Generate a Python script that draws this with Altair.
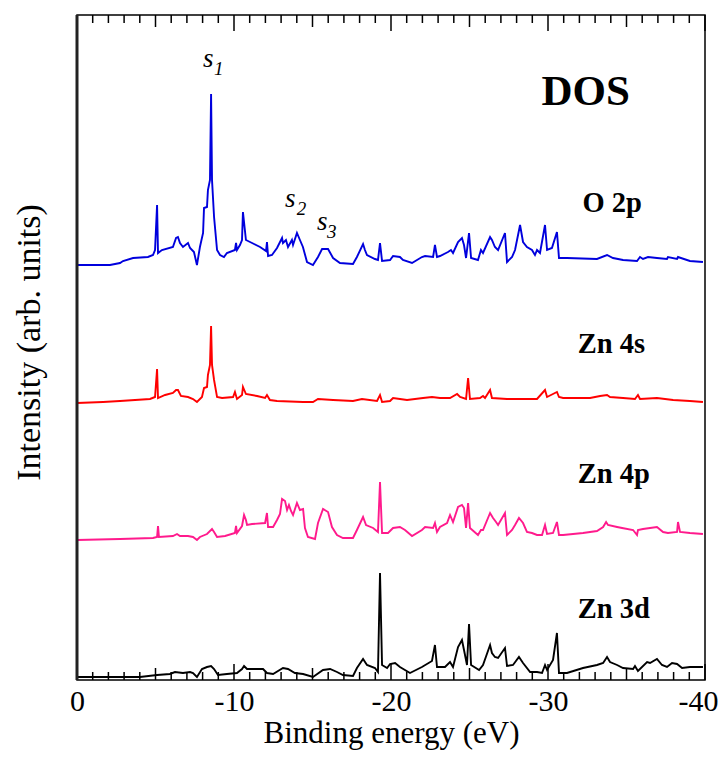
import altair as alt
import pandas as pd

# ---------------- data ----------------
SERIES = ["O 2p", "Zn 4s", "Zn 4p", "Zn 3d"]
COLORS = ["#0000dd", "#ff0000", "#ff1a8c", "#000000"]
OFFSETS = [414, 277, 140, 3]   # vertical stacking of the curves

O2P_E = [0, -2.1, -2.74, -2.93, -3.57, -4.52, -4.84, -4.97, -5.10, -5.16,
         -5.41, -6.11, -6.31, -6.43, -6.56, -6.75, -7.07, -7.20, -7.45, -7.64,
         -7.83, -8.03, -8.09, -8.28, -8.34, -8.47, -8.54, -8.60, -8.73, -8.92,
         -9.11, -9.36, -9.55, -10.06, -10.13, -10.19, -10.38, -10.51, -10.57, -10.76,
         -11.15, -11.66, -12.04, -12.10, -12.17, -12.42, -12.74, -13.06, -13.12, -13.31,
         -13.44, -13.69, -13.76, -14.01, -14.20, -14.39, -14.65, -15.03, -15.35, -15.61,
         -15.99, -16.31, -16.75, -17.58, -17.83, -18.22, -18.34, -18.47, -18.98, -19.17,
         -19.30, -19.43, -19.94, -20.13, -20.57, -20.76, -21.34, -21.97, -22.17, -22.68,
         -22.80, -22.93, -23.12, -23.63, -23.82, -23.95, -24.27, -24.52, -24.65, -24.78,
         -24.97, -25.10, -25.54, -25.73, -25.86, -26.31, -26.43, -26.62, -26.82, -27.26,
         -27.39, -27.71, -27.90, -28.22, -28.41, -28.66, -28.98, -29.17, -29.30, -29.49,
         -29.81, -29.94, -30.25, -30.57, -30.70, -31.21, -33.12, -33.76, -34.14, -34.78,
         -35.67, -35.86, -36.05, -36.37, -36.94, -37.58, -37.64, -38.22, -38.28, -39.04,
         -39.87]
O2P_I = [1, 1, 3, 5, 8, 9, 11, 16, 61, 13,
         16, 19, 28, 29, 23, 19, 23, 18, 14, 1,
         19, 33, 58, 59, 76, 86, 172, 86, 49, 16,
         11, 9, 13, 16, 23, 16, 21, 26, 54, 26,
         23, 19, 15, 24, 10, 11, 18, 28, 23, 26,
         19, 26, 21, 33, 26, 19, 4, 1, 9, 17,
         17, 8, 3, 2, 9, 22, 16, 11, 7, 6,
         23, 5, 6, 10, 9, 6, 3, 9, 10, 9,
         21, 9, 10, 14, 16, 13, 24, 28, 21, 8,
         33, 8, 6, 16, 13, 29, 26, 19, 16, 33,
         4, 9, 16, 41, 24, 19, 16, 11, 16, 13,
         41, 16, 18, 34, 8, 8, 7, 11, 8, 6,
         5, 9, 7, 9, 8, 7, 9, 7, 9, 5,
         4]

ZN4S_E = [0, -1.66, -2.74, -4.65, -4.97, -5.10, -5.16, -5.61, -6.11, -6.31,
          -6.43, -6.62, -7.07, -7.39, -7.64, -7.96, -8.09, -8.28, -8.34, -8.47,
          -8.54, -8.60, -8.73, -8.92, -9.24, -9.94, -10.06, -10.19, -10.51, -10.57,
          -10.76, -11.47, -11.98, -12.10, -12.29, -12.74, -14.40, -15.03, -15.35, -16.31,
          -17.58, -18.15, -19.11, -19.30, -19.43, -19.94, -20.13, -20.57, -21.02, -22.04,
          -22.61, -23.12, -23.76, -24.21, -24.40, -24.78, -24.91, -25.03, -25.67, -25.86,
          -25.99, -26.31, -26.43, -27.39, -28.41, -29.30, -29.81, -29.94, -30.57, -30.70,
          -30.96, -32.68, -33.32, -33.76, -33.95, -34.78, -35.54, -35.73, -35.86, -36.94,
          -37.97, -39.04, -39.87]
ZN4S_I = [0, 1, 2, 4, 6, 34, 5, 8, 10, 13,
          13, 7, 6, 4, 1, 6, 15, 16, 28, 38,
          77, 38, 23, 6, 5, 6, 11, 4, 8, 16,
          9, 7, 5, 8, 3, 2, 1, 1, 4, 3,
          2, 4, 2, 8, 1, 2, 5, 4, 3, 5,
          6, 5, 5, 9, 6, 4, 25, 4, 5, 7,
          5, 13, 5, 4, 4, 4, 13, 6, 11, 6,
          5, 5, 7, 8, 6, 5, 4, 8, 4, 5,
          3, 2, 1]

ZN4P_E = [0, -2.74, -4.84, -5.10, -5.16, -5.22, -6.11, -6.37, -6.56, -7.07,
          -7.39, -7.64, -7.83, -8.28, -8.60, -8.73, -8.92, -9.43, -10.06, -10.13,
          -10.19, -10.51, -10.64, -10.76, -10.83, -11.15, -11.98, -12.10, -12.17, -12.49,
          -12.74, -12.93, -13.06, -13.25, -13.38, -13.50, -13.63, -13.76, -14.01, -14.20,
          -14.40, -14.52, -14.71, -15.16, -15.35, -15.67, -15.99, -16.24, -16.56, -16.94,
          -17.58, -17.83, -18.22, -18.41, -18.86, -19.17, -19.30, -19.43, -19.81, -20.13,
          -20.57, -20.89, -21.34, -21.97, -22.17, -22.68, -22.80, -22.93, -23.12, -23.57,
          -23.76, -23.95, -24.27, -24.52, -24.65, -24.78, -24.91, -25.03, -25.54, -25.73,
          -25.86, -26.31, -26.50, -26.69, -26.82, -27.26, -27.39, -27.71, -27.90, -28.15,
          -28.41, -28.66, -28.98, -29.30, -29.62, -29.81, -29.94, -30.32, -30.57, -30.70,
          -30.96, -32.23, -33.12, -33.51, -33.70, -33.82, -34.40, -34.72, -35.42, -35.67,
          -35.73, -36.05, -36.50, -36.94, -37.33, -37.64, -38.22, -38.28, -38.41, -39.04,
          -39.87]
ZN4P_I = [0, 1, 2, 3, 14, 3, 4, 6, 4, 4,
          3, 0, 3, 6, 11, 8, 3, 4, 7, 14,
          7, 14, 25, 20, 15, 16, 17, 27, 13, 13,
          20, 26, 41, 39, 30, 35, 29, 25, 37, 30,
          31, 12, 3, 1, 17, 31, 28, 13, 5, 2,
          2, 10, 23, 15, 12, 8, 58, 7, 7, 12,
          13, 10, 4, 10, 13, 12, 17, 8, 13, 17,
          25, 18, 33, 35, 32, 12, 37, 12, 5, 10,
          10, 27, 22, 18, 15, 27, 5, 10, 15, 22,
          17, 8, 7, 5, 5, 15, 6, 7, 18, 5,
          5, 7, 9, 13, 18, 15, 13, 12, 10, 5,
          10, 11, 12, 13, 8, 7, 8, 18, 8, 7,
          6]

ZN3D_E = [0, -4.01, -5.10, -5.92, -6.24, -6.75, -7.20, -7.39, -7.64, -7.96,
          -8.28, -8.54, -8.73, -8.98, -9.55, -10.19, -10.51, -10.64, -10.83, -11.85,
          -12.10, -12.49, -13.12, -13.44, -13.88, -14.40, -15.03, -15.67, -16.12, -16.56,
          -16.94, -17.58, -17.83, -18.22, -18.47, -18.98, -19.17, -19.30, -19.43, -19.75,
          -19.94, -20.26, -20.57, -21.21, -21.97, -22.61, -22.80, -22.93, -23.44, -23.76,
          -23.95, -24.27, -24.52, -24.65, -24.84, -24.97, -25.10, -25.61, -25.86, -26.31,
          -26.43, -26.62, -26.82, -27.26, -27.39, -27.77, -28.15, -28.41, -28.86, -29.30,
          -29.62, -29.81, -29.94, -30.32, -30.57, -30.70, -31.21, -32.23, -33.12, -33.51,
          -33.76, -33.95, -34.40, -34.78, -35.42, -35.54, -35.73, -36.31, -36.50, -36.94,
          -37.26, -37.58, -37.90, -38.22, -38.54, -39.04, -39.87]
ZN3D_I = [0, 0, 2, 3, 5, 4, 5, 4, 0, 8,
          10, 11, 8, 2, 3, 4, 8, 11, 8, 8,
          4, 3, 9, 8, 4, 3, 0, 7, 8, 5,
          2, 1, 9, 18, 12, 9, 5, 104, 12, 9,
          13, 14, 10, 4, 10, 16, 32, 10, 10, 15,
          10, 30, 37, 27, 12, 53, 12, 7, 12, 32,
          24, 20, 19, 29, 11, 12, 20, 14, 5, 5,
          4, 12, 7, 17, 44, 4, 4, 9, 12, 14,
          20, 15, 12, 9, 8, 11, 6, 15, 14, 18,
          12, 10, 14, 13, 9, 10, 10]

X_TICK_LABELS = [0, -10, -20, -30, -40]
MINOR_TICKS = [-v for v in range(0, 41) if v % 5 != 0]
MEDIUM_TICKS = [-5, -15, -25, -35]
MAJOR_TICKS = [0, -10, -20, -30, -40]

SERIES_LABELS = ["O 2p", "Zn 4s", "Zn 4p", "Zn 3d"]
SERIES_LABEL_E = [-32.2, -31.9, -31.9, -31.9]
SERIES_LABEL_Y = [468, 327, 197, 62]
PEAK_S = ["s", "s", "s"]
PEAK_S_E = [-8.03, -13.25, -15.29]
PEAK_S_Y = [613, 473, 450]
PEAK_SUB = ["1", "2", "3"]
PEAK_SUB_E = [-8.73, -14.0, -15.93]
PEAK_SUB_Y = [605, 465, 442]

# ---------------- build tables ----------------
rows = []
for name, E, I, off in zip(SERIES, [O2P_E, ZN4S_E, ZN4P_E, ZN3D_E],
                           [O2P_I, ZN4S_I, ZN4P_I, ZN3D_I], OFFSETS):
    assert len(E) == len(I), name
    for k, (e, i) in enumerate(zip(E, I)):
        rows.append({"series": name, "E": e, "I": i + off, "order": k})
df = pd.DataFrame(rows)

W, H = 628, 665
FONT = "Times New Roman, Liberation Serif, Times, serif"

xscale = alt.Scale(domain=[0, -40], nice=False, zero=False)
yscale = alt.Scale(domain=[0, 665], nice=False, zero=False)

xaxis = alt.Axis(values=X_TICK_LABELS, ticks=False, domain=False, grid=False,
                 labelExpr="datum.value == 0 ? '0' : '-' + format(abs(datum.value), 'd')",
                 labelAlign={"condition": {"test": "datum.value == -40", "value": "right"},
                             "value": "center"},
                 labelOffset={"condition": {"test": "datum.value == -40", "value": 13},
                              "value": 0},
                 labelFlush=False, labelPadding=6,
                 labelFont=FONT, labelFontSize=30, labelColor="black",
                 title="Binding energy (eV)", titlePadding=2,
                 titleFont=FONT, titleFontSize=31, titleFontWeight="normal", titleColor="black")
yaxis = alt.Axis(labels=False, ticks=False, domain=False, grid=False,
                 title="Intensity (arb. units)", titlePadding=31, titleY=327,
                 titleFont=FONT, titleFontSize=34, titleFontWeight="normal", titleColor="black")

X = lambda: alt.X("E:Q", scale=xscale, axis=xaxis)
Y = lambda: alt.Y("y:Q", scale=yscale, axis=yaxis)

lines = alt.Chart(df).mark_line(strokeWidth=1.9).encode(
    x=X(),
    y=alt.Y("I:Q", scale=yscale, axis=yaxis),
    color=alt.Color("series:N", scale=alt.Scale(domain=SERIES, range=COLORS), legend=None),
    detail="series:N",
    order="order:Q",
)

layers = [lines]
for vals, L in [(MINOR_TICKS, 8), (MEDIUM_TICKS, 12), (MAJOR_TICKS, 16)]:
    tdf = pd.DataFrame({"E": vals})
    base = alt.Chart(tdf).mark_rule(color="black", strokeWidth=1.5)
    layers.append(base.encode(x=X(), y=alt.value(0), y2=alt.value(L)))
    layers.append(base.encode(x=X(), y=alt.value(H), y2=alt.value(H - L)))

# thicker left frame edge
layers.append(alt.Chart(pd.DataFrame({"E": [0]})).mark_rule(color="#222222", strokeWidth=3).encode(
    x=X(), y=alt.value(0), y2=alt.value(H)))

lab_df = pd.DataFrame({"t": SERIES_LABELS, "E": SERIES_LABEL_E, "y": SERIES_LABEL_Y})
layers.append(alt.Chart(lab_df).mark_text(align="left", baseline="alphabetic", font=FONT,
                                          fontWeight="bold", fontSize=28.5, color="black").encode(
    x=X(), y=Y(), text="t:N"))

dos_df = pd.DataFrame({"t": ["DOS"], "E": [-32.4], "y": [575]})
layers.append(alt.Chart(dos_df).mark_text(align="center", baseline="alphabetic", font=FONT,
                                          fontWeight="bold", fontSize=43, color="black").encode(
    x=X(), y=Y(), text="t:N"))

s_df = pd.DataFrame({"t": PEAK_S, "E": PEAK_S_E, "y": PEAK_S_Y})
layers.append(alt.Chart(s_df).mark_text(align="left", baseline="alphabetic", font=FONT,
                                        fontStyle="italic", fontSize=27, color="black").encode(
    x=X(), y=Y(), text="t:N"))
sub_df = pd.DataFrame({"t": PEAK_SUB, "E": PEAK_SUB_E, "y": PEAK_SUB_Y})
layers.append(alt.Chart(sub_df).mark_text(align="left", baseline="alphabetic", font=FONT,
                                          fontStyle="italic", fontSize=19, color="black").encode(
    x=X(), y=Y(), text="t:N"))

chart = alt.layer(*layers).properties(
    width=W, height=H,
    autosize=alt.AutoSizeParams(type="none"),
    padding={"left": 69, "top": 7, "right": 13, "bottom": 70},
    background="white",
).configure_view(
    stroke="black", strokeWidth=1.5
)

chart.save("out.html", embed_options={"renderer": "svg", "actions": False})
